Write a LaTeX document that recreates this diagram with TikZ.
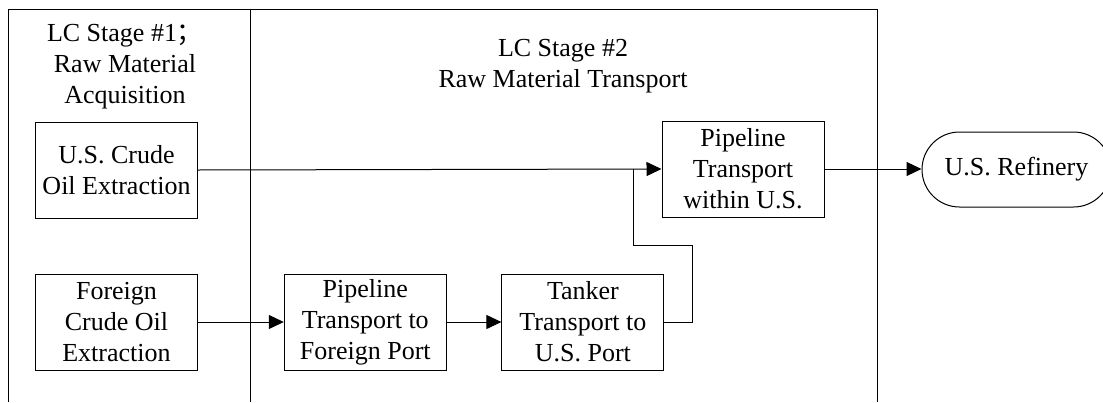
\documentclass[tikz,border=0pt]{standalone}
\usepackage{fontspec}
\setmainfont{Liberation Serif}
\newfontfamily\cjk{Noto Sans CJK SC}
\usetikzlibrary{arrows.meta,shapes.misc}
\begin{document}
\begin{tikzpicture}[x=1pt,y=-1pt,
  every node/.style={font=\fontsize{26}{31}\selectfont, align=center, inner sep=0pt},
  procbox/.style={draw, line width=1pt, minimum width=162pt, minimum height=96pt},
  termbox/.style={draw, line width=1pt, rounded rectangle, minimum width=189pt, minimum height=75pt},
  frameline/.style={line width=1pt},
  flow/.style={line width=1pt, -{Triangle[length=15pt,width=14pt]}},
  plain/.style={line width=1pt}]
\useasboundingbox (0,0) rectangle (1103,402);
\fill[white] (0,0) rectangle (1103,402);
% stage frames
\draw[frameline] (8,402) -- (8,9) -- (877,9) -- (877,402);
\draw[frameline] (250,9) -- (250,402);
\node (s1) at (125,66.5) {LC Stage \#1{\cjk ；}\\Raw Material\\Acquisition};
\node (s2) at (563,66.5) {LC Stage \#2\\Raw Material Transport};
% boxes
\node[procbox] (uscrude) at (116.5,170) {U.S. Crude\\Oil Extraction};
\node[procbox] (foreign) at (116.5,322) {Foreign\\Crude Oil\\Extraction};
\node[procbox] (pipef) at (365.3,322) {Pipeline\\Transport to\\Foreign Port};
\node[procbox] (tanker) at (582.9,322) {Tanker\\Transport to\\U.S. Port};
\node[procbox] (pipeus) at (743,169) {Pipeline\\Transport\\within U.S.};
\node[termbox] (refinery) at (1016.5,169.5) {U.S. Refinery};
% connectors
\coordinate (join) at (633,169);
\draw[flow] (uscrude.east) -- (pipeus.west);
\draw[flow] (foreign.east) -- (pipef.west);
\draw[flow] (pipef.east) -- (tanker.west);
\draw[plain] (tanker.east) -- ++(28,0) |- (633,245) -- (join);
\draw[flow] (pipeus.east) -- (pipeus.east -| refinery.west);
\end{tikzpicture}
\end{document}
